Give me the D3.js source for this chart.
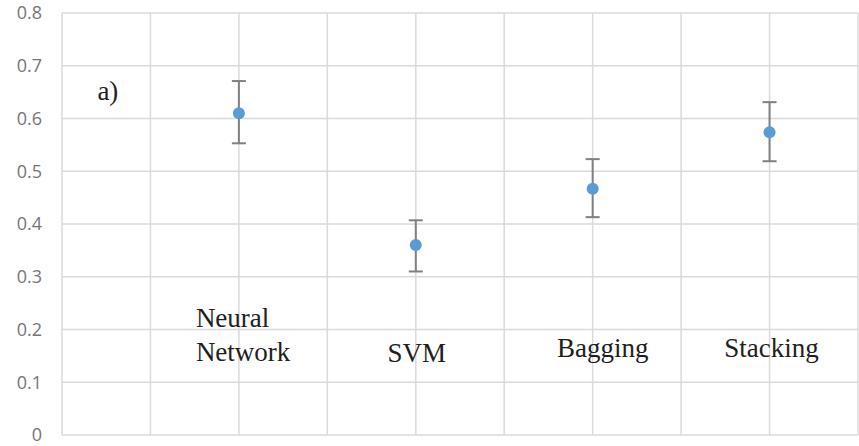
<!DOCTYPE html>
<html>
<head>
<meta charset="utf-8">
<script src="https://cdn.jsdelivr.net/npm/d3@7"></script>
<style>
  body { margin: 0; background: #fff; }
  .tick text { font-family: "Open Sans", "DejaVu Sans", sans-serif; }
</style>
</head>
<body>
<svg width="859" height="446"></svg>
<script>
var models = ["Neural Network", "SVM", "Bagging", "Stacking"];
var means = [0.610, 0.360, 0.467, 0.574];
var errUp = [0.061, 0.047, 0.056, 0.057];
var errDown = [0.057, 0.050, 0.054, 0.055];
var yTicks = [0, 0.1, 0.2, 0.3, 0.4, 0.5, 0.6, 0.7, 0.8];
var xGrid = [0, 0.5, 1, 1.5, 2, 2.5, 3, 3.5, 4, 4.5];

var svg = d3.select("svg"),
    width = +svg.attr("width"),
    height = +svg.attr("height");

var x = d3.scaleLinear().domain([0, 4.5]).range([62, 858]);
var y = d3.scaleLinear().domain([0, 0.8]).range([435, 13]);

// grid
svg.append("g").selectAll("line").data(yTicks).enter().append("line")
   .attr("x1", x(0)).attr("x2", x(4.5))
   .attr("y1", function(d) { return y(d); })
   .attr("y2", function(d) { return y(d); })
   .attr("stroke", "#dadada").attr("stroke-width", 1.5);

svg.append("g").selectAll("line").data(xGrid).enter().append("line")
   .attr("x1", function(d) { return x(d); })
   .attr("x2", function(d) { return x(d); })
   .attr("y1", y(0)).attr("y2", y(0.8))
   .attr("stroke", "#dadada").attr("stroke-width", 1.5);

// y axis labels
var yAxis = svg.append("g")
   .attr("transform", "translate(" + (x(0) - 8) + ",0)")
   .call(d3.axisLeft(y).tickValues(yTicks).tickSize(0).tickPadding(12)
         .tickFormat(function(d) { return d === 0 ? "0" : d3.format(".1f")(d); }));
yAxis.select(".domain").remove();
yAxis.selectAll("text").attr("fill", "#767676").style("font-size", "18px");

// error bars
var bars = svg.append("g").selectAll("g").data(models).enter().append("g");
bars.append("line")
    .attr("x1", function(d, i) { return x(i + 1); })
    .attr("x2", function(d, i) { return x(i + 1); })
    .attr("y1", function(d, i) { return y(means[i] + errUp[i]); })
    .attr("y2", function(d, i) { return y(means[i] - errDown[i]); })
    .attr("stroke", "#808080").attr("stroke-width", 2);
bars.append("line")
    .attr("x1", function(d, i) { return x(i + 1) - 7; })
    .attr("x2", function(d, i) { return x(i + 1) + 7; })
    .attr("y1", function(d, i) { return y(means[i] + errUp[i]); })
    .attr("y2", function(d, i) { return y(means[i] + errUp[i]); })
    .attr("stroke", "#808080").attr("stroke-width", 2);
bars.append("line")
    .attr("x1", function(d, i) { return x(i + 1) - 7; })
    .attr("x2", function(d, i) { return x(i + 1) + 7; })
    .attr("y1", function(d, i) { return y(means[i] - errDown[i]); })
    .attr("y2", function(d, i) { return y(means[i] - errDown[i]); })
    .attr("stroke", "#808080").attr("stroke-width", 2);
bars.append("circle")
    .attr("cx", function(d, i) { return x(i + 1); })
    .attr("cy", function(d, i) { return y(means[i]); })
    .attr("r", 6)
    .attr("fill", "#5b9bd5");

// category labels (annotations inside plot)
var labelY = [0.205, 0.139, 0.147, 0.147];
var labelDx = [-43, 1, 10, 2];
svg.append("g").selectAll("text").data(models).enter().append("text")
   .attr("x", function(d, i) { return x(i + 1) + labelDx[i]; })
   .attr("y", function(d, i) { return y(labelY[i]); })
   .attr("text-anchor", function(d, i) { return i === 0 ? "start" : "middle"; })
   .attr("font-family", "Liberation Serif, Times New Roman, serif")
   .attr("font-size", "27px")
   .attr("fill", "#1e1e1e")
   .each(function(d, i) {
      var t = d3.select(this);
      if (i === 0) {
        var words = d.split(" ");
        t.append("tspan").attr("x", x(i + 1) + labelDx[i]).text(words[0]);
        t.append("tspan").attr("x", x(i + 1) + labelDx[i]).attr("dy", 34).text(words[1]);
      } else {
        t.text(d);
      }
   });

svg.append("text")
   .attr("x", x(0.2)).attr("y", y(0.635))
   .attr("font-family", "Liberation Serif, Times New Roman, serif")
   .attr("font-size", "27px")
   .attr("fill", "#1e1e1e")
   .text("a)");
</script>
</body>
</html>
